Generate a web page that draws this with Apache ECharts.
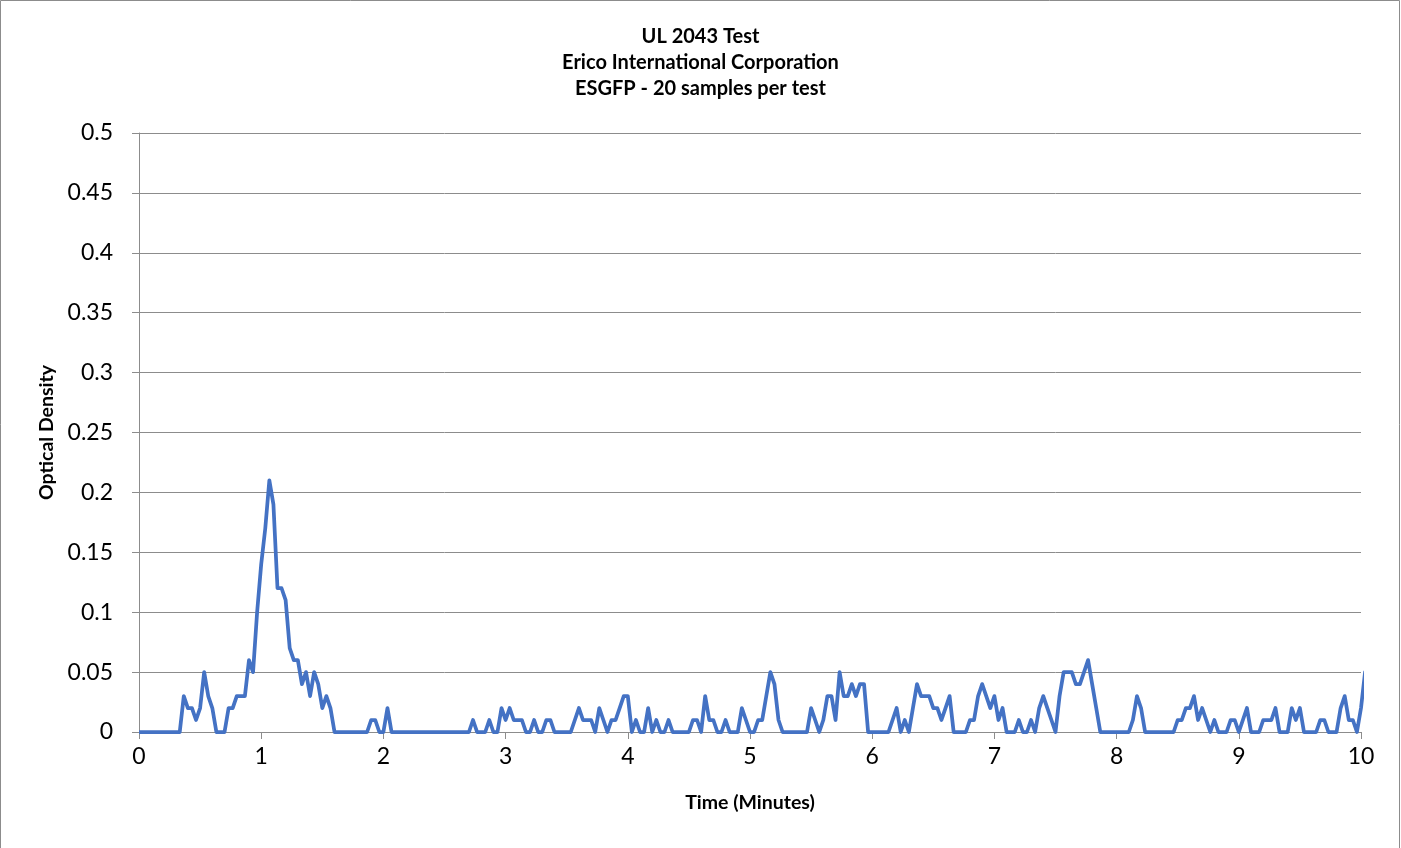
<!DOCTYPE html>
<html>
<head>
<meta charset="utf-8">
<script src="https://cdn.jsdelivr.net/npm/echarts@6/dist/echarts.min.js"></script>
<style>
  html, body { margin: 0; padding: 0; background: #ffffff; }
  #chart { width: 1401px; height: 848px; }
</style>
</head>
<body>
<div id="chart"></div>
<script>
// ---- data ----
const titleLines = ["UL 2043 Test", "Erico International Corporation", "ESGFP - 20 samples per test"];
const xAxisName = "Time (Minutes)";
const yAxisName = "Optical Density";
const sampleIntervalMinutes = 2 / 60; // one reading every 2 seconds
// Optical density readings, one per sample (starting at t = 0)
const opticalDensity = [
  0,0,0,0,0,0,0,0,0,0,0,
  0.03,0.02,0.02,0.01,0.02,0.05,0.03,0.02,0,0,
  0,0.02,0.02,0.03,0.03,0.03,0.06,0.05,0.10,0.14,
  0.17,0.21,0.19,0.12,0.12,0.11,0.07,0.06,0.06,0.04,
  0.05,0.03,0.05,0.04,0.02,0.03,0.02,0,0,0,
  0,0,0,0,0,0,0.01,0.01,0,0,
  0.02,0,0,0,0,0,0,0,0,0,
  0,0,0,0,0,0,0,0,0,0,
  0,0.01,0,0,0,0.01,0,0,0.02,0.01,
  0.02,0.01,0.01,0.01,0,0,0.01,0,0,0.01,
  0.01,0,0,0,0,0,0.01,0.02,0.01,0.01,
  0.01,0,0.02,0.01,0,0.01,0.01,0.02,0.03,0.03,
  0,0.01,0,0,0.02,0,0.01,0,0,0.01,
  0,0,0,0,0,0.01,0.01,0,0.03,0.01,
  0.01,0,0,0.01,0,0,0,0.02,0.01,0,
  0,0.01,0.01,0.03,0.05,0.04,0.01,0,0,0,
  0,0,0,0,0.02,0.01,0,0.01,0.03,0.03,
  0.01,0.05,0.03,0.03,0.04,0.03,0.04,0.04,0,0,
  0,0,0,0,0.01,0.02,0,0.01,0,0.02,
  0.04,0.03,0.03,0.03,0.02,0.02,0.01,0.02,0.03,0,
  0,0,0,0.01,0.01,0.03,0.04,0.03,0.02,0.03,
  0.01,0.02,0,0,0,0.01,0,0,0.01,0,
  0.02,0.03,0.02,0.01,0,0.03,0.05,0.05,0.05,0.04,
  0.04,0.05,0.06,0.04,0.02,0,0,0,0,0,
  0,0,0,0.01,0.03,0.02,0,0,0,0,
  0,0,0,0,0.01,0.01,0.02,0.02,0.03,0.01,
  0.02,0.01,0,0.01,0,0,0,0.01,0.01,0,
  0.01,0.02,0,0,0,0.01,0.01,0.01,0.02,0,
  0,0,0.02,0.01,0.02,0,0,0,0,0.01,
  0.01,0,0,0,0.02,0.03,0.01,0.01,0,0.02,
  0.05,0.035
];
const xTicks = { min: 0, max: 10, interval: 1 };
const yTicks = { min: 0, max: 0.5, interval: 0.05 };

// ---- chart ----
const seriesData = opticalDensity.map((v, i) => [i * sampleIntervalMinutes, v]);
const FONT = "Lato, 'Open Sans', sans-serif";
const GRID_COLOR = "#8c8c8c";

const chart = echarts.init(document.getElementById('chart'), null, { renderer: 'canvas' });
chart.setOption({
  backgroundColor: '#ffffff',
  animation: false,
  title: {
    text: titleLines.join('\n'),
    left: 'center',
    top: 19,
    textStyle: { fontFamily: FONT, fontSize: 20, fontWeight: 'bold', color: '#000', lineHeight: 26 }
  },
  graphic: [{
    type: 'rect',
    shape: { x: 0.5, y: 0.5, width: 1399, height: 880 },
    style: { fill: 'none', stroke: '#8c8c8c', lineWidth: 1 },
    silent: true
  }],
  grid: { left: 139, top: 133, width: 1222, height: 599, containLabel: false },
  xAxis: {
    type: 'value',
    min: xTicks.min, max: xTicks.max, interval: xTicks.interval,
    name: xAxisName,
    nameLocation: 'middle',
    nameGap: 61,
    nameTextStyle: { fontFamily: FONT, fontSize: 19.5, fontWeight: 'bold', color: '#000' },
    axisLine: { show: true, onZero: false, lineStyle: { color: GRID_COLOR, width: 1 } },
    axisTick: { show: true, inside: false, length: 7, lineStyle: { color: GRID_COLOR } },
    axisLabel: { fontFamily: FONT, fontSize: 23, color: '#000', margin: 13 },
    splitLine: { show: false }
  },
  yAxis: {
    type: 'value',
    min: yTicks.min, max: yTicks.max, interval: yTicks.interval,
    name: yAxisName,
    nameLocation: 'middle',
    nameGap: 81,
    nameRotate: 90,
    nameTextStyle: { fontFamily: FONT, fontSize: 19.5, fontWeight: 'bold', color: '#000' },
    axisLine: { show: true, lineStyle: { color: GRID_COLOR, width: 1 } },
    axisTick: { show: true, inside: false, length: 7, lineStyle: { color: GRID_COLOR } },
    axisLabel: {
      fontFamily: FONT, fontSize: 23, color: '#000', margin: 26,
      formatter: v => String(parseFloat(v.toFixed(2)))
    },
    splitLine: { show: true, lineStyle: { color: GRID_COLOR, width: 1 } }
  },
  series: [{
    type: 'line',
    data: seriesData,
    showSymbol: false,
    clip: true,
    lineStyle: { color: '#4472C4', width: 3.75, join: 'round' },
    itemStyle: { color: '#4472C4' }
  }]
});
</script>
</body>
</html>
